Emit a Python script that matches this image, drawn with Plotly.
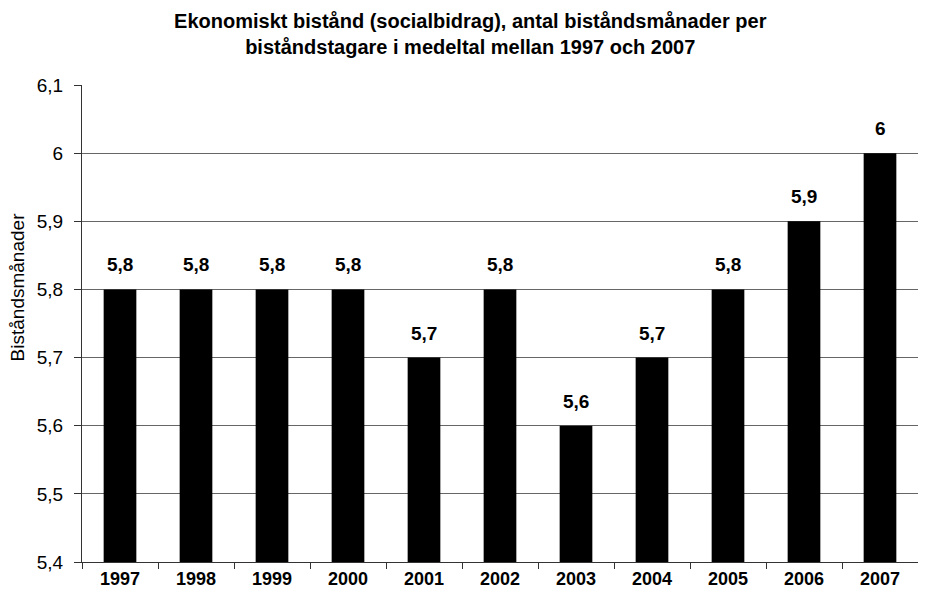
import plotly.graph_objects as go

years = ["1997", "1998", "1999", "2000", "2001", "2002", "2003", "2004", "2005", "2006", "2007"]
months = [5.8, 5.8, 5.8, 5.8, 5.7, 5.8, 5.6, 5.7, 5.8, 5.9, 6.0]
y_ticks = [5.4, 5.5, 5.6, 5.7, 5.8, 5.9, 6.0, 6.1]

FONT = "Liberation Sans, Arial, sans-serif"


def fmt(v):
    s = f"{v:g}"
    return s.replace(".", ",")


fig = go.Figure(
    go.Bar(
        x=years,
        y=months,
        marker=dict(color="black", line=dict(width=0)),
        hoverinfo="skip",
    )
)

# numeric-looking category names confuse annotation placement, so use the index
for i, v in enumerate(months):
    fig.add_annotation(
        x=i, y=v, text=f"<b>{fmt(v)}</b>", showarrow=False,
        yanchor="bottom", yshift=12,
        font=dict(family=FONT, size=19, color="black"),
    )

# y title sits above the plot's middle in the original, so place it by hand
fig.add_annotation(
    text="Biståndsmånader", textangle=-90, showarrow=False,
    xref="paper", yref="paper", x=-0.077, y=0.577,
    xanchor="center", yanchor="middle",
    font=dict(family=FONT, size=19, color="black"),
)

# page body has an 8px margin, so the figure is sized to fit inside it
fig.update_layout(
    width=910,
    height=585,
    margin=dict(l=74, r=0, t=77, b=31),
    paper_bgcolor="white",
    plot_bgcolor="white",
    bargap=0.57,
    showlegend=False,
    font=dict(family=FONT, color="black"),
    title=dict(
        text="<b>Ekonomiskt bistånd (socialbidrag), antal biståndsmånader per<br>"
             "biståndstagare i medeltal mellan 1997 och 2007</b>",
        x=0.508, xanchor="center", xref="container",
        y=0.966, yanchor="middle", yref="container",
        font=dict(family=FONT, size=20, color="black"),
    ),
)
fig.update_yaxes(
    range=[5.4, 6.1],
    tickvals=y_ticks,
    ticktext=[fmt(t) for t in y_ticks],
    showgrid=True, gridcolor="#666666", gridwidth=1,
    showline=True, linecolor="#333333", linewidth=1,
    ticks="outside", ticklen=7, tickcolor="#333333",
    ticklabelstandoff=7,
    tickfont=dict(family=FONT, size=19, color="black"),
    zeroline=False,
)
fig.update_xaxes(
    type="category",
    range=[-0.5, len(years) - 0.5],
    showline=True, linecolor="#333333", linewidth=1,
    ticks="outside", ticklen=6, tickcolor="#333333", tickson="boundaries",
    tickangle=0,
    tickfont=dict(family=FONT, size=18, color="black"),
    tickprefix="<b>", ticksuffix="</b>",
)

fig.write_html("out.html")
